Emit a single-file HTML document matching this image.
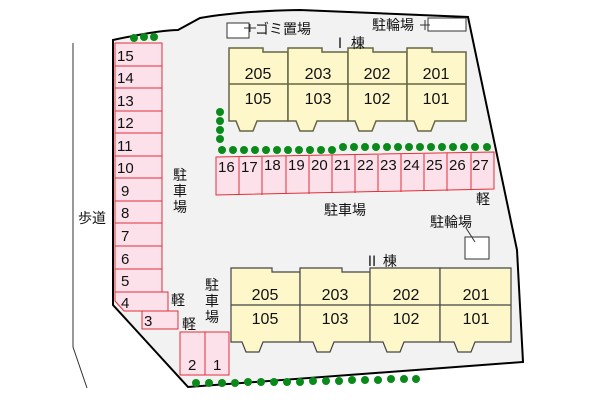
<!DOCTYPE html>
<html><head><meta charset="utf-8"><style>
html,body{margin:0;padding:0;background:#fff;}
svg{display:block;}
text{font-family:"Liberation Sans","Noto Sans CJK JP",sans-serif;fill:#111;}
</style></head><body>
<svg width="600" height="400" viewBox="0 0 600 400" xmlns="http://www.w3.org/2000/svg">
<polyline points="73,43 73,347 87,388" fill="none" stroke="#333" stroke-width="1"/>
<path d="M113,40 Q160,30 178,30 L200,18 Q240,11 300,10 L468,17 L517,250 L523,362 L188,387 L113,305 Z" fill="#f2f2f2" stroke="#000" stroke-width="2"/>

<g fill="#fde1ea" stroke="#e0303a" stroke-width="1">
<rect x="115" y="43" width="47" height="23"/>
<rect x="115" y="66" width="47" height="22"/>
<rect x="115" y="88" width="47" height="23"/>
<rect x="115" y="111" width="47" height="22"/>
<rect x="115" y="133" width="47" height="23"/>
<rect x="115" y="156" width="47" height="22"/>
<rect x="115" y="178" width="47" height="23"/>
<rect x="115" y="201" width="47" height="22"/>
<rect x="115" y="223" width="47" height="23"/>
<rect x="115" y="246" width="47" height="23"/>
<rect x="115" y="269" width="47" height="23"/>
<path d="M115,292 L168,292 L168,311 L124,311 L115,301 Z"/>
<rect x="142" y="311" width="36" height="18"/>
<rect x="180" y="332" width="25" height="43"/>
<rect x="205" y="332" width="24" height="43"/>
</g>
<g font-size="15">
<text x="117" y="61">15</text><text x="117" y="83">14</text><text x="117" y="106">13</text>
<text x="117" y="128">12</text><text x="117" y="151">11</text><text x="117" y="173">10</text>
<text x="121" y="196">9</text><text x="121" y="218">8</text><text x="121" y="241">7</text>
<text x="121" y="264">6</text><text x="121" y="286">5</text><text x="121" y="308">4</text>
<text x="144" y="326">3</text><text x="188" y="370">2</text><text x="213" y="370">1</text>
</g>

<g fill="#fde1ea" stroke="#e0303a" stroke-width="1">
<path d="M216,157 L494,152 L494,189 L216,195 Z"/>
</g>
<g stroke="#e0303a" stroke-width="1">
<line x1="239" y1="157" x2="239" y2="195"/><line x1="262" y1="157" x2="262" y2="195"/>
<line x1="286" y1="156" x2="286" y2="194"/><line x1="309" y1="156" x2="309" y2="194"/>
<line x1="332" y1="155" x2="332" y2="193"/><line x1="355" y1="155" x2="355" y2="193"/>
<line x1="378" y1="155" x2="378" y2="192"/><line x1="401" y1="154" x2="401" y2="192"/>
<line x1="424" y1="154" x2="424" y2="191"/><line x1="447" y1="153" x2="447" y2="191"/>
<line x1="471" y1="153" x2="471" y2="190"/>
</g>
<g font-size="15">
<text x="218" y="172">16</text><text x="241" y="172">17</text><text x="264" y="170">18</text>
<text x="288" y="170">19</text><text x="311" y="170">20</text><text x="334" y="170">21</text>
<text x="357" y="170">22</text><text x="380" y="170">23</text><text x="403" y="170">24</text>
<text x="426" y="170">25</text><text x="449" y="170">26</text><text x="472" y="170">27</text>
</g>

<g fill="#fdf7c9" stroke="#666644" stroke-width="1.5">
<path d="M229,48 L263,48 L263,52 L288,52 L288,121 L257,121 L253,131 L240,131 L236,121 L229,121 Z"/>
<path d="M288,48 L322,48 L322,52 L348,52 L348,121 L317,121 L313,131 L300,131 L296,121 L288,121 Z"/>
<path d="M348,48 L373,48 L373,52 L407,52 L407,121 L376,121 L372,131 L359,131 L355,121 L348,121 Z"/>
<path d="M407,48 L432,48 L432,52 L466,52 L466,121 L435,121 L431,131 L418,131 L414,121 L407,121 Z"/>
<line x1="229" y1="84" x2="466" y2="84"/>
</g>
<g font-size="16" text-anchor="middle">
<text x="258" y="79">205</text><text x="318" y="79">203</text><text x="377" y="79">202</text><text x="436" y="79">201</text>
<text x="258" y="104">105</text><text x="318" y="104">103</text><text x="377" y="104">102</text><text x="436" y="104">101</text>
</g>

<g fill="#fdf7c9" stroke="#444" stroke-width="1.2">
<path d="M231,268 L272,268 L272,272 L300,272 L300,342 L263,342 L259,352 L246,352 L242,342 L231,342 Z"/>
<path d="M300,268 L342,268 L342,272 L370,272 L370,342 L334,342 L330,352 L317,352 L313,342 L300,342 Z"/>
<path d="M370,268 L440,268 L440,342 L404,342 L400,352 L387,352 L383,342 L370,342 Z"/>
<path d="M440,268 L511,268 L511,342 L475,342 L471,352 L458,352 L454,342 L440,342 Z"/>
<line x1="231" y1="305" x2="511" y2="305"/>
</g>
<g font-size="16" text-anchor="middle">
<text x="265" y="300">205</text><text x="335" y="300">203</text><text x="406" y="300">202</text><text x="476" y="300">201</text>
<text x="265" y="324">105</text><text x="335" y="324">103</text><text x="406" y="324">102</text><text x="476" y="324">101</text>
</g>

<g fill="#fff" stroke="#333" stroke-width="1">
<rect x="227" y="23" width="22" height="15"/>
<rect x="428" y="18" width="38" height="13"/>
<rect x="465" y="237" width="24" height="22"/>
</g>
<g stroke="#333" stroke-width="1">
<line x1="244" y1="28" x2="256" y2="28"/><line x1="250" y1="24" x2="250" y2="32"/>
<line x1="420" y1="25" x2="430" y2="25"/><line x1="425" y1="20" x2="425" y2="30"/>
<line x1="466" y1="228" x2="475" y2="242"/>
</g>

<g font-size="14">
<text x="255" y="34">ゴミ置場</text>
<text x="372" y="30">駐輪場</text>
<text x="333" y="48">Ⅰ 棟</text>
<text x="365" y="266">Ⅱ 棟</text>
<text x="324" y="215">駐車場</text>
<text x="430" y="227">駐輪場</text>
<text x="476" y="204">軽</text>
<text x="171" y="305">軽</text>
<text x="182" y="329">軽</text>
<text x="78" y="223">歩道</text>
<text x="173" y="180">駐</text><text x="173" y="196">車</text><text x="173" y="212">場</text>
<text x="205" y="290">駐</text><text x="205" y="306">車</text><text x="205" y="322">場</text>
</g>

<g fill="#0a8a1a">
<circle cx="134" cy="38" r="4"/><circle cx="144" cy="37" r="4"/><circle cx="154" cy="37" r="4"/>
<circle cx="220" cy="112" r="4"/><circle cx="220" cy="121" r="4"/><circle cx="220" cy="130" r="4"/><circle cx="220" cy="139" r="4"/>
<circle cx="222" cy="150" r="4"/><circle cx="233" cy="150" r="4"/><circle cx="244" cy="150" r="4"/><circle cx="255" cy="150" r="4"/>
<circle cx="266" cy="150" r="4"/><circle cx="277" cy="150" r="4"/><circle cx="288" cy="150" r="4"/><circle cx="299" cy="150" r="4"/>
<circle cx="310" cy="150" r="4"/><circle cx="321" cy="150" r="4"/><circle cx="332" cy="150" r="4"/><circle cx="343" cy="147" r="4"/>
<circle cx="354" cy="147" r="4"/><circle cx="365" cy="147" r="4"/><circle cx="376" cy="147" r="4"/><circle cx="387" cy="147" r="4"/>
<circle cx="398" cy="147" r="4"/><circle cx="409" cy="147" r="4"/><circle cx="420" cy="147" r="4"/><circle cx="431" cy="147" r="4"/>
<circle cx="442" cy="147" r="4"/><circle cx="453" cy="147" r="4"/><circle cx="464" cy="147" r="4"/><circle cx="475" cy="147" r="4"/><circle cx="487" cy="147" r="4"/>
<circle cx="196" cy="383" r="4"/><circle cx="209" cy="383" r="4"/><circle cx="222" cy="383" r="4"/><circle cx="235" cy="383" r="4"/>
<circle cx="248" cy="382" r="4"/><circle cx="261" cy="382" r="4"/><circle cx="274" cy="382" r="4"/><circle cx="287" cy="382" r="4"/>
<circle cx="300" cy="382" r="4"/><circle cx="313" cy="381" r="4"/><circle cx="326" cy="381" r="4"/><circle cx="339" cy="381" r="4"/>
<circle cx="352" cy="380" r="4"/><circle cx="365" cy="380" r="4"/><circle cx="378" cy="380" r="4"/><circle cx="391" cy="379" r="4"/>
<circle cx="404" cy="379" r="4"/><circle cx="416" cy="379" r="4"/>
</g>
</svg>
</body></html>
